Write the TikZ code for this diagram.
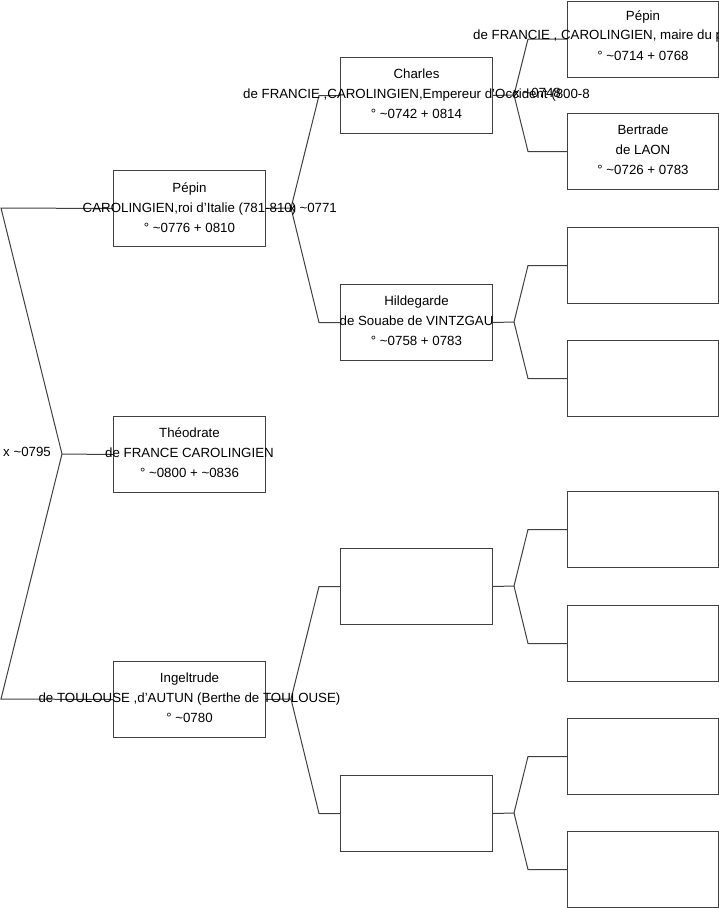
\documentclass[tikz,border=0pt]{standalone}
\usepackage{fontspec}
\setmainfont{Liberation Sans}
\definecolor{ln}{HTML}{404040}
\newcommand{\tl}{\textasciitilde{}}
\begin{document}
\begin{tikzpicture}[x=1pt,y=-1pt,
  pbox/.style={draw=ln,line width=1pt,minimum width=152pt,minimum height=76pt,inner sep=0pt,anchor=north west},
  ptext/.style={align=center,inner sep=0pt,font=\fontsize{13.3}{20}\selectfont},
  plab/.style={inner sep=0pt,font=\fontsize{13.3}{20}\selectfont},
  conn/.style={draw=ln,line width=1pt}]
\useasboundingbox (0,0) rectangle (719,908);
\clip (0,0) rectangle (719,908);
% column 1
\node[pbox] (b1) at (113,170) {};
\node[pbox] (b2) at (113,416) {};
\node[pbox] (b3) at (113,661) {};
% column 2
\node[pbox] (c1) at (340,57) {};
\node[pbox] (c2) at (340,284) {};
\node[pbox] (c3) at (340,548) {};
\node[pbox] (c4) at (340,775) {};
% column 3
\node[pbox,minimum width=151pt] (d1) at (567,0.5) {};
\node[pbox,minimum width=151pt] (d2) at (567,113) {};
\node[pbox,minimum width=151pt] (d3) at (567,227) {};
\node[pbox,minimum width=151pt] (d4) at (567,340) {};
\node[pbox,minimum width=151pt] (d5) at (567,491) {};
\node[pbox,minimum width=151pt] (d6) at (567,605) {};
\node[pbox,minimum width=151pt] (d7) at (567,718) {};
\node[pbox,minimum width=151pt] (d8) at (567,831) {};
% fork points
\coordinate (f0) at (62,454);
\coordinate (f1) at (291,208);
\coordinate (f3) at (291,699);
\coordinate (g1) at (514,95);
\coordinate (g2) at (514,322);
\coordinate (g3) at (514,586);
\coordinate (g4) at (514,813);
% connectors
\draw[conn] (f0) -- (b2.west);
\draw[conn] (f0) -- (1,208) -- (b1.west);
\draw[conn] (f0) -- (1,699) -- (b3.west);
\draw[conn] (b1.east) -- (f1);
\draw[conn] (f1) -- ([xshift=-21pt]c1.west) -- (c1.west);
\draw[conn] (f1) -- ([xshift=-21pt]c2.west) -- (c2.west);
\draw[conn] (b3.east) -- (f3);
\draw[conn] (f3) -- ([xshift=-21pt]c3.west) -- (c3.west);
\draw[conn] (f3) -- ([xshift=-21pt]c4.west) -- (c4.west);
\draw[conn] (c1.east) -- (g1);
\draw[conn] (g1) -- ([xshift=-39pt]d1.west) -- (d1.west);
\draw[conn] (g1) -- ([xshift=-39pt]d2.west) -- (d2.west);
\draw[conn] (c2.east) -- (g2);
\draw[conn] (g2) -- ([xshift=-39pt]d3.west) -- (d3.west);
\draw[conn] (g2) -- ([xshift=-39pt]d4.west) -- (d4.west);
\draw[conn] (c3.east) -- (g3);
\draw[conn] (g3) -- ([xshift=-39pt]d5.west) -- (d5.west);
\draw[conn] (g3) -- ([xshift=-39pt]d6.west) -- (d6.west);
\draw[conn] (c4.east) -- (g4);
\draw[conn] (g4) -- ([xshift=-39pt]d7.west) -- (d7.west);
\draw[conn] (g4) -- ([xshift=-39pt]d8.west) -- (d8.west);
% texts
\node[ptext] (t1) at ([yshift=1pt]b1.center) {Pépin\\CAROLINGIEN,roi d'Italie (781-810)\\° \tl0776 + 0810};
\node[ptext] (t2) at ([yshift=2pt]b2.center) {Théodrate\\de FRANCE CAROLINGIEN\\° \tl0800 + \tl0836};
\node[ptext] (t3) at ([yshift=2pt]b3.center) {Ingeltrude\\de TOULOUSE ,d'AUTUN (Berthe de TOULOUSE)\\° \tl0780};
\node[ptext] (t4) at ([yshift=2pt]c1.center) {Charles\\de FRANCIE ,CAROLINGIEN,Empereur d'Occident (800-8\\° \tl0742 + 0814};
\node[ptext] (t5) at ([yshift=2pt]c2.center) {Hildegarde\\de Souabe de VINTZGAU\\° \tl0758 + 0783};
\node[ptext] (t7) at ([yshift=2pt]d2.center) {Bertrade\\de LAON\\° \tl0726 + 0783};
\node[plab] (t6a) at (643,17) {Pépin};
\node[plab,anchor=west] (t6b) at (473,36) {de FRANCIE , CAROLINGIEN, maire du palais};
\node[plab] (t6c) at (643,56) {° \tl0714 + 0768};
\node[plab,anchor=west] (l0) at (3,452) {x \tl0795};
\node[plab,anchor=west] (l1) at (289,208) {x \tl0771};
\node[plab,anchor=west] (l2) at (513,93) {x \tl0748};
\end{tikzpicture}
\end{document}
